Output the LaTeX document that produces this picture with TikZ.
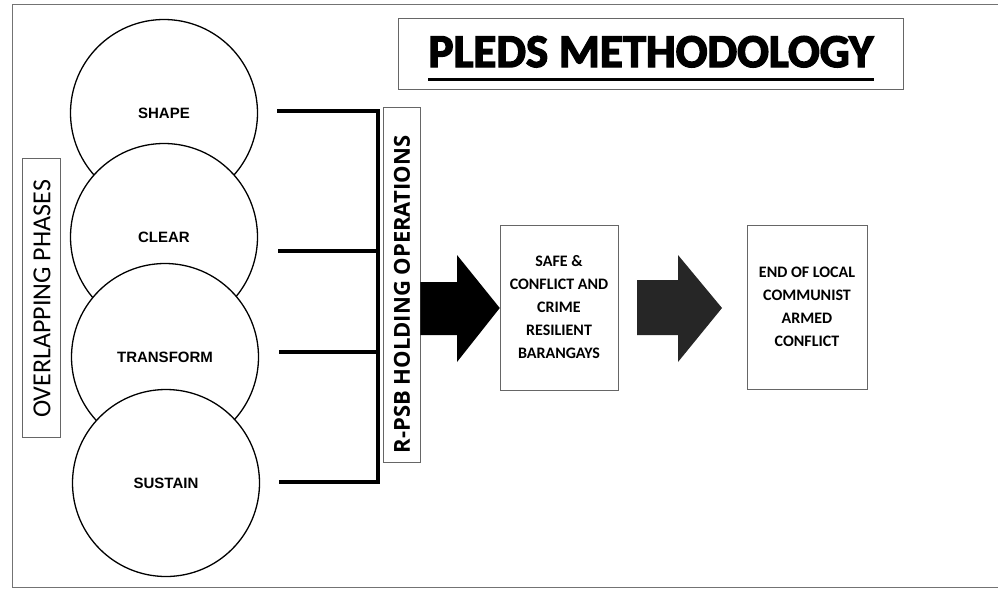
\documentclass[tikz,border=0pt]{standalone}
\usepackage{fontspec}
\setmainfont{Carlito}
\newfontfamily\arialfont{Liberation Sans}
\newfontfamily\heavyfont[BoldFont=Carlito Bold, BoldFeatures={FakeBold=3}]{Carlito}
\newfontfamily\widefont{Open Sans}
\usepackage{tikz}
\usetikzlibrary{positioning}

\tikzset{
    phase/.style={circle, draw, fill=white, line width=1.3pt, minimum size=187pt,
        font=\arialfont\bfseries\fontsize{15}{17}\selectfont},
    bus/.style={line width=3.2pt},
    tagbox/.style={draw=black!60, line width=0.5pt, fill=white, inner sep=0pt},
    goalbox/.style={draw=black!60, line width=0.5pt, fill=white, align=center,
        font=\bfseries\fontsize{16}{23}\selectfont, inner sep=0pt},
}

\begin{document}
\begin{tikzpicture}[x=1pt, y=-1pt]
    \useasboundingbox (0,0) rectangle (998,589);
    \draw[black!55, line width=0.6pt] (1005,4) -- (12,4) -- (12,587) -- (1005,587);

    % title
    \node[tagbox, minimum width=505pt, minimum height=71pt] (title) at (650.5,53.5) {};
    \node[font=\heavyfont\bfseries\fontsize{47}{50}\selectfont, inner sep=0pt, anchor=base] (titletext) at (651,67) {PLEDS METHODOLOGY};
    \draw[line width=3pt] (titletext.west |- 0,79) -- (titletext.east |- 0,79);

    % overlapping phases
    \node[phase] (shape) at (164,113) {SHAPE};
    \node[phase] (clear) at (164,237) {CLEAR};
    \node[phase] (transform) at (165,357) {TRANSFORM};
    \node[phase] (sustain) at (166,483) {SUSTAIN};

    \node[tagbox, minimum width=38pt, minimum height=279pt] (phasesbox) at (41.5,297.5) {};
    \node[rotate=90, font=\fontsize{26}{28}\selectfont] (phases) at (42,299) {OVERLAPPING PHASES};

    % holding operations
    \coordinate (j1) at (378,111);
    \coordinate (j2) at (378,251);
    \coordinate (j3) at (378,352);
    \coordinate (j4) at (378,482);
    \draw[bus] (j1 -| 277,0) -- (j1) -- (j4) -- (j4 -| 279,0);
    \draw[bus] (j2 -| 278,0) -- (j2);
    \draw[bus] (j3 -| 279,0) -- (j3);

    \node[tagbox, minimum width=37pt, minimum height=355pt] (holding) at (401.5,284.5) {};
    \node[rotate=90, font=\widefont\bfseries\fontsize{22}{24}\selectfont] (holdtext) at (402,294.5) {R-PSB HOLDING OPERATIONS};

    % outcomes
    \node[goalbox, minimum width=118pt, minimum height=165pt] (safe) at (559,307.5)
        {SAFE \&\\CONFLICT AND\\CRIME\\RESILIENT\\BARANGAYS};
    \node[goalbox, minimum width=120pt, minimum height=164pt] (endclc) at (807,307)
        {END OF LOCAL\\COMMUNIST\\ARMED\\CONFLICT};

    % block arrows
    \fill[black] (holding.east |- 0,282) -- (457,282) -- (457,255) -- (safe.west |- 0,308)
        -- (457,362) -- (457,335) -- (holding.east |- 0,335) -- cycle;
    \fill[black!85] (637,280) -- (678,280) -- (678,255) -- (722,308)
        -- (678,362) -- (678,335) -- (637,335) -- cycle;
\end{tikzpicture}
\end{document}
